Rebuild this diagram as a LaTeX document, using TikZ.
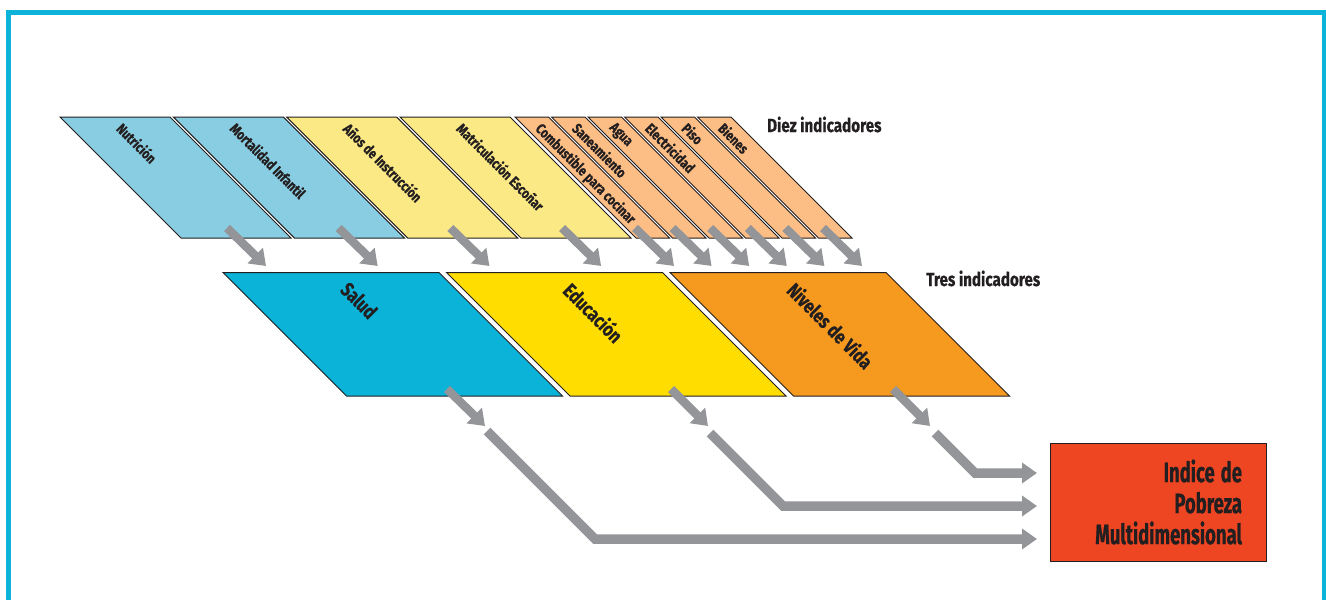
\documentclass[tikz,border=0pt]{standalone}
\usepackage{fontspec}
\setmainfont{Fira Sans}[FakeStretch=0.8, BoldFeatures={FakeBold=0.6}]
\newfontfamily\boxfont{Fira Sans}[FakeStretch=0.66, BoldFeatures={FakeBold=0.6}]
\usetikzlibrary{%
        arrows.meta
    }
\definecolor{ink}{HTML}{231F20}
\definecolor{frame}{HTML}{0DB3D9}
\definecolor{paleblue}{HTML}{89CDE2}
\definecolor{paleyellow}{HTML}{FBE985}
\definecolor{paleorange}{HTML}{FDBE86}
\definecolor{salud}{HTML}{0BB3D8}
\definecolor{educa}{HTML}{FFDD00}
\definecolor{vida}{HTML}{F6991F}
\definecolor{pobreza}{HTML}{EE4623}
\definecolor{steel}{HTML}{939598}
\tikzset{%
    slab/.style={draw=ink, line width=1pt, line join=miter},
    toplabel/.style={%
        font=\bfseries\fontsize{14.5}{16}\selectfont,
        text=ink, rotate=-45, anchor=north west, inner sep=0pt
    },
    midlabel/.style={%
        font=\bfseries\fontsize{20}{23}\selectfont,
        text=ink, rotate=-45, anchor=north west, inner sep=0pt
    },
    heading/.style={%
        font=\bfseries\fontsize{19}{22}\selectfont,
        text=ink, anchor=base west, inner sep=0pt
    },
    flow/.style={draw=steel, line width=8.5pt, -{Triangle[length=15pt, width=21pt]}},
    feed/.style={draw=steel, line width=9.5pt, line join=miter, -{Triangle[length=15pt, width=20pt]}}
}

\begin{document}
\begin{tikzpicture}[x=1pt, y=-1pt]

    \useasboundingbox (0, 0) rectangle (1326, 600);

    % Frame
    \draw[frame, line width=5pt] (8.5, 610) -- (8.5, 12) -- (1324.5, 12) -- (1324.5, 610);

    % Ten indicators
    \foreach \x/\c/\txt [count=\i] in {%
            60/paleblue/Nutrición,
            173.3/paleblue/Mortalidad Infantil,
            286.7/paleyellow/Años de Instrucción,
            400/paleyellow/Matriculación Escoñar}{%
        \filldraw[slab, fill=\c] (\x, 117) -- ++(110, 0) -- ++(121, 121) -- ++(-110, 0) -- cycle;
        \node[toplabel] (ind\i) at (\x + 64, 121) {\txt};
    };
    \foreach \x/\txt [count=\i from 5] in {%
            515/Combustible para cocinar,
            551.5/Saneamiento,
            588/Agua,
            624.5/Electricidad,
            661/Piso,
            697.5/Bienes}{%
        \filldraw[slab, fill=paleorange] (\x, 117) -- ++(33.5, 0) -- ++(121, 121) -- ++(-33.5, 0) -- cycle;
        \node[toplabel] (ind\i) at (\x + 28, 121) {\txt};
    };

    \node[heading] (diez) at (767, 132) {Diez indicadores};

    % Arrows down to the three dimensions
    \foreach \x [count=\i] in {227, 338.7, 450.4, 562.1, 635, 672.6, 710.2, 747.8, 785.4, 823}{%
        \coordinate (s\i) at (\x, 228);
        \coordinate (e\i) at (\x + 39, 266);
        \draw[flow] (s\i) -- (e\i);
    };

    % Three indicators
    \foreach \x/\c/\txt [count=\i] in {%
            223/salud/Salud,
            446.5/educa/Educación,
            670/vida/Niveles de Vida}{%
        \filldraw[slab, fill=\c] (\x, 272.5) -- ++(216, 0) -- ++(123.5, 123.5) -- ++(-216, 0) -- cycle;
        \node[midlabel] (dim\i) at (\x + 127, 280) {\txt};
    };

    \node[heading] (tres) at (926, 286) {Tres indicadores};

    % The index
    \node[%
        draw=ink,
        line width=1pt,
        fill=pobreza,
        minimum width=216pt,
        minimum height=118pt,
        text width=168pt,
        align=right,
        text=ink,
        font=\boxfont\bfseries\fontsize{28}{31}\selectfont
    ] (ipm) at (1158, 502) {Indice\hspace{6pt}de\\Pobreza\\Multidimensional};

    % Connecting dimensions to the index
    \coordinate (out1) at (447, 389);
    \coordinate (tip1) at (485, 426);
    \coordinate (in1) at (487, 431);
    \coordinate (bend1) at (595, 539);
    \coordinate (end1) at (1037, 539);

    \coordinate (out2) at (671, 389);
    \coordinate (tip2) at (708, 426);
    \coordinate (in2) at (710, 433);
    \coordinate (bend2) at (783, 506);
    \coordinate (end2) at (1037, 506);

    \coordinate (out3) at (893, 389);
    \coordinate (tip3) at (930, 426);
    \coordinate (in3) at (935, 433);
    \coordinate (bend3) at (975, 473);
    \coordinate (end3) at (1037, 473);

    \foreach \i in {1, 2, 3}{%
        \draw[flow] (out\i) -- (tip\i);
        \draw[feed] (in\i) -- (bend\i) -- (end\i);
    };

\end{tikzpicture}
\end{document}
